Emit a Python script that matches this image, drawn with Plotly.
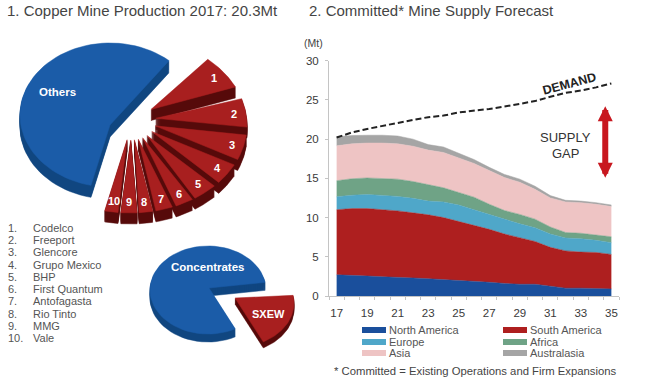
import numpy as np
import plotly.graph_objects as go

FONT = "Liberation Sans"
# ---- Left charts data
companies = ["Codelco", "Freeport", "Glencore", "Grupo Mexico", "BHP", "First Quantum",
             "Antofagasta", "Rio Tinto", "MMG", "Vale"]
company_share = [8.6, 6.75, 5.67, 4.7, 3.86, 3.06, 2.78, 2.14, 2.5, 1.94]
others_share = 58.0
conc_share = [80.0, 20.0]
# ---- Right chart data
years = list(range(17, 36))
x_ticks = [17, 19, 21, 23, 25, 27, 29, 31, 33, 35]
y_ticks = [0, 5, 10, 15, 20, 25, 30]
top_north_america = [2.7, 2.65, 2.55, 2.45, 2.4, 2.3, 2.2, 2.1, 2.0, 1.9, 1.75, 1.6, 1.5, 1.5, 1.25, 1.0, 1.0, 0.95, 0.9]
top_south_america = [11.0, 11.15, 11.15, 11.0, 10.85, 10.6, 10.35, 10.0, 9.5, 9.0, 8.5, 7.9, 7.4, 6.95, 6.2, 5.75, 5.6, 5.55, 5.3]
top_europe = [12.65, 12.85, 12.95, 12.85, 12.7, 12.45, 12.1, 12.0, 11.6, 11.0, 10.4, 9.8, 9.2, 8.7, 7.9, 7.4, 7.3, 7.1, 6.8]
top_africa = [14.7, 14.95, 15.05, 15.0, 14.9, 14.6, 14.2, 13.8, 13.2, 12.6, 11.7, 10.9, 10.4, 9.8, 8.8, 8.1, 8.0, 7.8, 7.55]
top_asia = [19.15, 19.4, 19.5, 19.5, 19.4, 19.1, 18.6, 18.3, 17.6, 16.9, 16.0, 15.1, 14.5, 13.6, 12.5, 12.0, 11.9, 11.7, 11.4]
top_australasia = [20.3, 20.45, 20.5, 20.5, 20.4, 20.0, 19.3, 19.0, 18.2, 17.4, 16.4, 15.5, 14.9, 14.0, 12.8, 12.2, 12.1, 11.9, 11.6]
demand = [20.2, 20.85, 21.3, 21.7, 22.1, 22.45, 22.8, 23.0, 23.4, 23.6, 23.85, 24.15, 24.5, 24.85, 25.4, 25.9, 26.2, 26.6, 27.1]
region_names = ["North America", "South America", "Europe", "Africa", "Asia", "Australasia"]
region_colors = ["#1a4f9c", "#ae1f1f", "#4fa7c9", "#6fa386", "#eec4c4", "#a5a5a5"]
region_tops = [top_north_america, top_south_america, top_europe, top_africa, top_asia, top_australasia]

# ---- Styling / geometry
RED, RED_D = "#a81f1f", "#560b0b"
BLUE, BLUE_D = "#1b5ca8", "#114680"
gap_after = [7.9, 5.2, 3.9, 3.2, 1.5, 2.0, 1.6, 1.0, 1.0, 0.0]


def wedge(apex, center, rx, ry, a0, a1):
    t = np.radians(np.linspace(a0, a1, 60))
    xs = np.r_[apex[0], center[0] + rx * np.cos(t), apex[0]]
    ys = np.r_[apex[1], center[1] - ry * np.sin(t), apex[1]]
    return xs, ys


def solid(fig, xs, ys, depth, top, side):
    sx, sy = [], []
    for d in np.arange(1, depth + 0.01, 1.0):
        sx += list(xs) + [None]
        sy += list(ys + d) + [None]
    common = dict(mode="lines", fill="toself", hoverinfo="skip", showlegend=False, xaxis="x", yaxis="y")
    fig.add_trace(go.Scatter(x=sx, y=sy, fillcolor=side, line=dict(color=side, width=0.5), **common))
    fig.add_trace(go.Scatter(x=xs, y=ys, fillcolor=top, line=dict(color=top, width=0.5), **common))


fig = go.Figure()
annos = []
shapes = []


def label(x, y, text, size, color="white", bold=True, anchor="center", angle=0):
    annos.append(dict(xref="x", yref="y", x=x, y=y, text=f"<b>{text}</b>" if bold else text,
                      showarrow=False, xanchor=anchor, yanchor="middle", textangle=angle,
                      borderpad=0, borderwidth=0,
                      font=dict(family=FONT, size=size, color=color)))


# Others wedge
a_start = 49.0
solid(fig, *wedge((110, 125), (110, 115), 90, 72, a_start, a_start + others_share * 3.6), 12, BLUE, BLUE_D)
# Top ten fan
cur = 48.7
C, RX, RY = (130, 125), 117, 88
for i, s in enumerate(company_share):
    ext = s * 3.6 - gap_after[i]
    mid = cur - ext / 2
    apex = (131 + 25 * np.cos(np.radians(mid)), 121 - 19 * np.sin(np.radians(mid)))
    solid(fig, *wedge(apex, C, RX, RY, cur, cur - ext), 11, RED, RED_D)
    cur -= s * 3.6
    label(C[0] + 0.9 * RX * np.cos(np.radians(mid)), C[1] - 0.88 * RY * np.sin(np.radians(mid)), str(i + 1), 11)
label(57, 92, "Others", 11.5)

# Concentrates / SXEW
c_start = 10.0
solid(fig, *wedge((209, 288), (208, 290), 58, 44, c_start, c_start + conc_share[0] * 3.6), 8, BLUE, BLUE_D)
solid(fig, *wedge((235, 298), (236, 303), 58, 44, c_start - conc_share[1] * 3.6, c_start), 6, RED, RED_D)
label(208, 267, "Concentrates", 11.5)
label(268, 314, "SXEW", 11)

# Company list
for i, name in enumerate(companies):
    y = 228 + i * 12.22
    label(8, y, f"{i + 1}.", 11, "#555555", False, "left")
    label(33, y, name, 11, "#555555", False, "left")

# Titles
label(7, 10, "1. Copper Mine Production 2017: 20.3Mt", 15, "#444444", False, "left")
label(309, 10, "2. Committed* Mine Supply Forecast", 15, "#444444", False, "left")
label(304, 43, "(Mt)", 10.5, "#444444", False, "left")
label(334, 371, "* Committed = Existing Operations and Firm Expansions", 11.3, "#444444", False, "left")

# Stacked areas
prev = np.zeros(len(years))
leg_x = [362, 503, 362, 503, 362, 503]
leg_y = [330, 330, 342, 342, 353, 353]
for i, (n, c, tops) in enumerate(zip(region_names, region_colors, region_tops)):
    t = np.array(tops)
    fig.add_trace(go.Scatter(x=years, y=t - prev, name=n, stackgroup="one", mode="lines",
                             line=dict(color=c, width=0.5), fillcolor=c, xaxis="x2", yaxis="y2",
                             showlegend=False))
    prev = t
    shapes.append(dict(type="rect", xref="x", yref="y", x0=leg_x[i], x1=leg_x[i] + 24, y0=leg_y[i] - 3, y1=leg_y[i] + 3,
                       fillcolor=c, line=dict(width=0)))
    label(leg_x[i] + 27, leg_y[i], n, 11, "#555555", False, "left")
fig.add_trace(go.Scatter(x=years, y=demand, mode="lines", showlegend=False, xaxis="x2", yaxis="y2",
                         line=dict(color="#222222", width=2, dash="6px,3px")))

annos.append(dict(xref="x2", yref="y2", axref="x2", ayref="y2", x=34.6, y=24.2, ax=34.6, ay=14.9,
                  text="", showarrow=True, arrowside="end+start", arrowhead=2, arrowsize=0.5,
                  arrowwidth=6, arrowcolor="#c8171f"))
label(565, 137, "SUPPLY", 13, "#333333", False)
label(565, 153, "GAP", 13, "#333333", False)
label(569, 84, "DEMAND", 12.5, "#222222", True, angle=-15)

fig.update_layout(
    width=650, height=380, margin=dict(l=0, r=0, t=0, b=0, pad=0, autoexpand=False), paper_bgcolor="white", plot_bgcolor="rgba(0,0,0,0)",
    annotations=annos, shapes=shapes, showlegend=False,
    xaxis=dict(domain=[0, 1], range=[0, 650], visible=False),
    yaxis=dict(domain=[0, 1], range=[380, 0], visible=False),
    xaxis2=dict(domain=[329 / 650, 619 / 650], range=[16.5, 35.5], anchor="y2", tickmode="array", tickvals=x_ticks,
                ticks="", showgrid=False, zeroline=False, showline=True, linecolor="#c4c4c4", linewidth=1,
                tickfont=dict(family=FONT, size=11.5, color="#3a3a3a"), ticklabelstandoff=6,
                minor=dict(tickmode="linear", tick0=16.5, dtick=1, ticks="outside", ticklen=3, tickcolor="#c4c4c4", showgrid=False)),
    yaxis2=dict(domain=[84 / 380, (380 - 60.7) / 380], range=[0, 30], anchor="x2", tickvals=y_ticks,
                ticks="outside", ticklen=3, tickcolor="#c4c4c4", showgrid=False, zeroline=False,
                showline=True, linecolor="#c4c4c4", linewidth=1, ticklabelstandoff=4,
                tickfont=dict(family=FONT, size=11.5, color="#3a3a3a")),
)
fig.write_html("out.html", config=dict(displayModeBar=False),
               post_script="document.body.style.margin='0';document.body.style.overflow='hidden';")
